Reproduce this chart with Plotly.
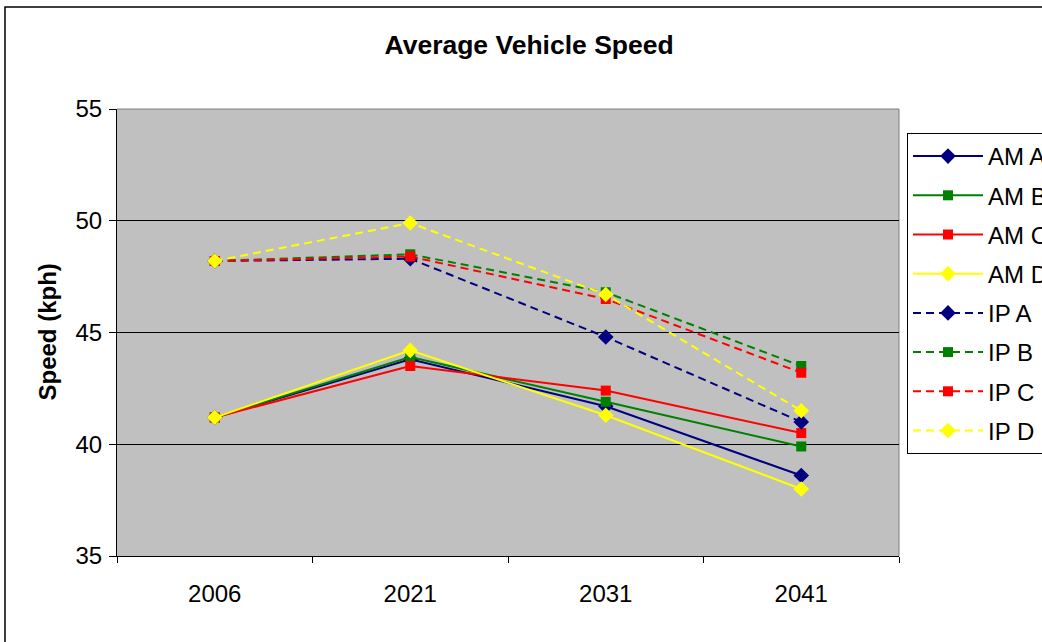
import plotly.graph_objects as go

years = ["2006", "2021", "2031", "2041"]
am_a = [41.2, 43.8, 41.7, 38.6]
am_b = [41.2, 43.9, 41.9, 39.9]
am_c = [41.2, 43.5, 42.4, 40.5]
am_d = [41.2, 44.2, 41.3, 38.0]
ip_a = [48.2, 48.3, 44.8, 41.0]
ip_b = [48.2, 48.5, 46.8, 43.5]
ip_c = [48.2, 48.4, 46.5, 43.2]
ip_d = [48.2, 49.9, 46.7, 41.5]

series = [
    ("AM A", am_a, "#000080", "diamond", "solid"),
    ("AM B", am_b, "#008000", "square", "solid"),
    ("AM C", am_c, "#FF0000", "square", "solid"),
    ("AM D", am_d, "#FFFF00", "diamond", "solid"),
    ("IP A", ip_a, "#000080", "diamond", "8px,5px"),
    ("IP B", ip_b, "#008000", "square", "8px,5px"),
    ("IP C", ip_c, "#FF0000", "square", "8px,5px"),
    ("IP D", ip_d, "#FFFF00", "diamond", "8px,5px"),
]

FONT = "Liberation Sans, Arial, sans-serif"

fig = go.Figure()
for i, (name, vals, col, sym, dash) in enumerate(series):
    fig.add_trace(go.Scatter(
        x=years, y=vals, name=name, mode="lines+markers",
        line=dict(color=col, width=2, dash=dash),
        marker=dict(symbol=sym, size=12 if sym == "diamond" else 10, color=col,
                    line=dict(width=0)),
        legendgroup=f"g{i}",
    ))

fig.update_layout(
    width=1042, height=642,
    margin=dict(l=117, r=143, t=109, b=86, autoexpand=False),
    paper_bgcolor="white", plot_bgcolor="#C0C0C0",
    font=dict(family=FONT, size=24, color="black"),
    title=dict(text="<b>Average Vehicle Speed</b>", x=0.527, xref="paper",
               xanchor="center", y=1 - 45 / 642, yref="container", yanchor="middle",
               font=dict(size=26.5, family=FONT, color="black")),
    showlegend=True,
    legend=dict(x=(907 - 117) / 782, xanchor="left", y=(556 - 133) / 447, yanchor="top",
                bgcolor="white", bordercolor="black", borderwidth=1,
                font=dict(size=24, family=FONT), tracegroupgap=5, itemwidth=70),
    xaxis=dict(type="category", categoryorder="array", categoryarray=years,
               range=[-0.5, 3.5], showgrid=False, showline=True, linecolor="black",
               linewidth=1, ticks="outside", tickson="boundaries", ticklen=6,
               tickcolor="black", tickfont=dict(size=24, family=FONT), zeroline=False,
               ticklabelstandoff=16),
    yaxis=dict(range=[35, 55], dtick=5, tick0=35, showgrid=True, gridcolor="black",
               gridwidth=1, showline=True, linecolor="black", linewidth=1,
               ticks="outside", ticklen=7, tickcolor="black",
               tickfont=dict(size=24, family=FONT), zeroline=False,
               ticklabelstandoff=2),
)

# plot-area top/right border (gray)
fig.add_shape(type="line", xref="paper", yref="paper", x0=0, x1=1, y0=1, y1=1,
              line=dict(color="#808080", width=1), layer="below")
fig.add_shape(type="line", xref="paper", yref="paper", x0=1, x1=1, y0=0, y1=1,
              line=dict(color="#808080", width=1), layer="below")
# outer chart frame
fig.add_shape(type="rect", xref="paper", yref="paper",
              x0=(5 - 117) / 782, x1=1.4, y0=-0.5, y1=(556 - 7) / 447,
              line=dict(color="black", width=1.5))

fig.add_annotation(text="<b>Speed (kph)</b>", xref="paper", yref="paper",
                   x=(47 - 117) / 782, y=0.5, xanchor="center", yanchor="middle",
                   textangle=-90, showarrow=False, font=dict(size=24, family=FONT))

fig.write_html("out.html", config={"displayModeBar": False},
               post_script="document.body.style.margin='0px';")
